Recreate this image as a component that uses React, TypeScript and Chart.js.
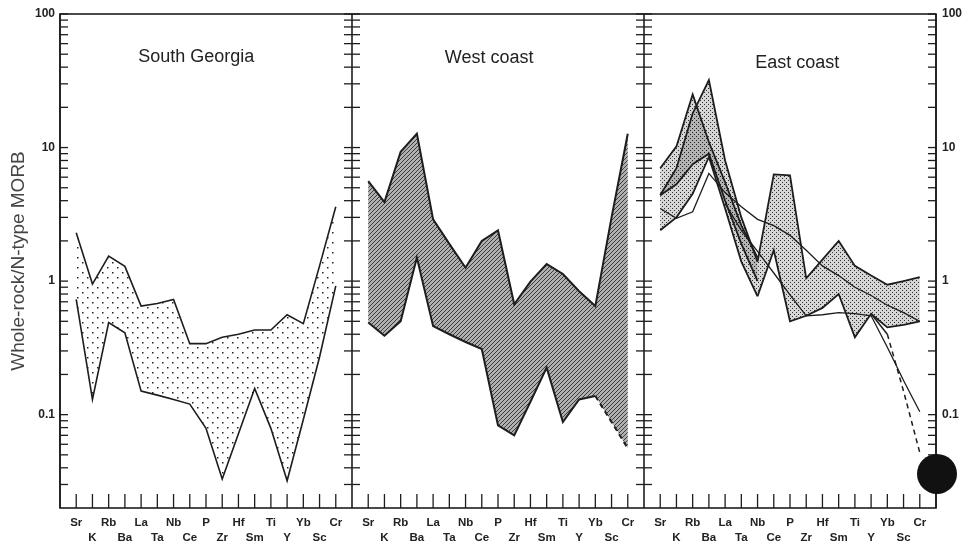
import { useEffect, useRef } from 'react';
import { Chart, registerables } from 'chart.js';

Chart.register(...registerables);

// ---------- data ----------
const ELEMENTS = ['Sr', 'K', 'Rb', 'Ba', 'La', 'Ta', 'Nb', 'Ce', 'P', 'Zr', 'Hf', 'Sm', 'Ti', 'Y', 'Yb', 'Sc', 'Cr'];
const PANEL_TITLES = ['South Georgia', 'West coast', 'East coast'];
const Y_LABEL_VALUES = [0.1, 1, 10, 100];
const Y_TITLE = 'Whole-rock/N-type MORB';

// South Georgia envelope
const SG_UPPER = [2.3, 0.95, 1.54, 1.29, 0.65, 0.68, 0.73, 0.34, 0.34, 0.38, 0.4, 0.43, 0.43, 0.56, 0.48, 1.3, 3.6];
const SG_LOWER = [0.73, 0.13, 0.49, 0.41, 0.15, 0.14, 0.13, 0.12, 0.079, 0.033, 0.072, 0.157, 0.079, 0.032, 0.092, 0.27, 0.92];

// West coast envelope
const WC_UPPER = [5.6, 3.9, 9.3, 12.7, 2.9, 1.9, 1.26, 2.0, 2.4, 0.67, 0.99, 1.34, 1.13, 0.84, 0.65, 3.0, 12.7];
const WC_LOWER = [0.49, 0.39, 0.5, 1.5, 0.46, 0.4, 0.35, 0.31, 0.083, 0.07, 0.125, 0.225, 0.088, 0.13, 0.138, 0.088, 0.056];

// East coast envelopes (null = not drawn)
const N = null;
const EC_A_UPPER = [7.0, 10.2, 25, 11, 5.5, 2.6, 1.5, N, N, N, N, N, N, N, N, N, N];
const EC_A_LOWER = [4.4, 5.3, 7.5, 9.0, 4.0, 1.9, 1.0, N, N, N, N, N, N, N, N, N, N];
const EC_B_UPPER = [4.4, 7.0, 18, 32, 8.0, 3.0, 1.4, N, N, N, N, N, N, N, N, N, N];
const EC_B_LOWER = [2.4, 3.0, 4.5, 8.5, 3.5, 1.4, 0.77, N, N, N, N, N, N, N, N, N, N];
const EC_C_UPPER = [N, N, N, N, N, N, 1.4, 6.3, 6.2, 1.05, 1.45, 2.0, 1.3, 1.1, 0.94, 1.0, 1.07];
const EC_C_LOWER = [N, N, N, N, N, N, 0.77, 1.7, 0.5, 0.55, 0.63, 0.8, 0.38, 0.57, 0.45, 0.47, 0.5];
// East coast single samples
const EC_LINE_1 = [3.5, 2.95, 3.3, 6.4, 4.6, 3.6, 2.9, 2.6, 2.2, 1.7, 1.3, 1.1, 0.9, 0.78, 0.66, 0.58, 0.5];
const EC_LINE_2 = [N, N, N, N, 3.8, 2.4, 1.67, 1.15, 0.79, 0.55, 0.56, 0.58, 0.57, 0.55, 0.32, 0.18, 0.105];
const EC_LINE_3 = [N, N, N, N, N, N, N, N, N, N, N, N, N, 0.57, 0.4, 0.15, 0.052];

// ---------- layout constants ----------
const PANEL_SPAN = 18; // category slots per panel (17 elements + gap)
const TITLE_X = [7.4, 7.45, 8.45];
const TITLE_DY = [43, 44, 49];
const FONT = "'Liberation Sans', Arial, Helvetica, sans-serif";
const INK = '#1d1d1d';

type Arr = (number | null)[];

function pts(arr: Arr, panel: number) {
  const out: { x: number; y: number }[] = [];
  arr.forEach((v, i) => {
    if (v != null) out.push({ x: panel * PANEL_SPAN + i, y: v });
  });
  return out;
}

function makePattern(size: number, draw: (g: CanvasRenderingContext2D) => void) {
  const c = document.createElement('canvas');
  c.width = size;
  c.height = size;
  const g = c.getContext('2d')!;
  draw(g);
  return g.createPattern(c, 'repeat')!;
}

const framePlugin = {
  id: 'frame',
  afterDraw(chart: any) {
    const { ctx, chartArea: a, scales } = chart;
    const xs = scales.x;
    const ys = scales.y;
    ctx.save();
    ctx.strokeStyle = INK;
    ctx.lineWidth = 1.6;
    ctx.strokeRect(a.left, a.top, a.right - a.left, a.bottom - a.top);
    const bounds = [-1, PANEL_SPAN - 1, 2 * PANEL_SPAN - 1, 3 * PANEL_SPAN - 1];
    bounds.forEach((b) => {
      const px = xs.getPixelForValue(b);
      ctx.beginPath();
      ctx.moveTo(px, a.top);
      ctx.lineTo(px, a.bottom);
      ctx.stroke();
    });
    const vals: number[] = [];
    for (let e = -2; e <= 1; e++) for (let m = 1; m <= 9; m++) vals.push(m * Math.pow(10, e));
    vals.push(100);
    ctx.lineWidth = 1.3;
    bounds.forEach((b, bi) => {
      const px = xs.getPixelForValue(b);
      vals.forEach((v) => {
        if (v < 0.021 || v > 100) return;
        const py = ys.getPixelForValue(v);
        const len = 8;
        ctx.beginPath();
        ctx.moveTo(bi > 0 ? px - len : px, py);
        ctx.lineTo(bi < bounds.length - 1 ? px + len : px, py);
        ctx.stroke();
      });
    });
    for (let p = 0; p < 3; p++) {
      for (let i = 0; i < ELEMENTS.length; i++) {
        const px = xs.getPixelForValue(p * PANEL_SPAN + i);
        ctx.beginPath();
        ctx.moveTo(px, a.bottom);
        ctx.lineTo(px, a.bottom - 14);
        ctx.stroke();
      }
    }
    ctx.fillStyle = '#222';
    ctx.font = `18px ${FONT}`;
    ctx.textAlign = 'center';
    ctx.textBaseline = 'middle';
    PANEL_TITLES.forEach((t, p) => {
      ctx.fillText(t, xs.getPixelForValue(p * PANEL_SPAN + TITLE_X[p]), a.top + TITLE_DY[p]);
    });
    ctx.fillStyle = '#111';
    ctx.beginPath();
    ctx.arc(a.right + 1, ys.getPixelForValue(0.036), 20, 0, Math.PI * 2);
    ctx.fill();
    ctx.restore();
  },
};

export default function App() {
  const ref = useRef<HTMLCanvasElement>(null);
  useEffect(() => {
    if (!ref.current) return;
    const sparse = makePattern(10, (g) => {
      g.fillStyle = '#222';
      g.fillRect(2, 2, 1.5, 1.5);
      g.fillRect(7, 7, 1.5, 1.5);
    });
    const dense = makePattern(4, (g) => {
      g.fillStyle = 'rgba(0,0,0,0.16)';
      g.fillRect(0, 0, 4, 4);
      g.fillStyle = 'rgba(30,30,30,0.9)';
      g.fillRect(0, 0, 1, 1);
      g.fillRect(2, 2, 1, 1);
    });
    const hatch = makePattern(4, (g) => {
      g.fillStyle = '#b0b0b0';
      g.fillRect(0, 0, 4, 4);
      g.strokeStyle = '#3c3c3c';
      g.lineWidth = 1.0;
      g.beginPath();
      g.moveTo(0, 4);
      g.lineTo(4, 0);
      g.moveTo(-1, 1);
      g.lineTo(1, -1);
      g.moveTo(3, 5);
      g.lineTo(5, 3);
      g.stroke();
    });

    // envelopes filled through the chart's own scales
    const bands: [Arr, Arr, number, CanvasPattern][] = [
      [SG_UPPER, SG_LOWER, 0, sparse],
      [WC_UPPER, WC_LOWER, 1, hatch],
      [EC_A_UPPER, EC_A_LOWER, 2, dense],
      [EC_B_UPPER, EC_B_LOWER, 2, dense],
      [EC_C_UPPER, EC_C_LOWER, 2, dense],
    ];
    const bandPlugin = {
      id: 'bands',
      beforeDatasetsDraw(chart: any) {
        const { ctx, chartArea: a, scales } = chart;
        const xs = scales.x;
        const ys = scales.y;
        ctx.save();
        ctx.beginPath();
        ctx.rect(a.left, a.top, a.right - a.left, a.bottom - a.top);
        ctx.clip();
        bands.forEach(([up, lo, panel, pat]) => {
          const poly = [...pts(up, panel), ...pts(lo, panel).reverse()];
          ctx.beginPath();
          poly.forEach((p, k) => {
            const px = xs.getPixelForValue(p.x);
            const py = ys.getPixelForValue(p.y);
            if (k === 0) ctx.moveTo(px, py);
            else ctx.lineTo(px, py);
          });
          ctx.closePath();
          ctx.fillStyle = pat;
          ctx.fill();
        });
        ctx.restore();
      },
    };

    const line = (arr: Arr, panel: number, width: number, dashFromIdx = -1) => ({
      data: pts(arr, panel),
      borderColor: INK,
      borderWidth: width,
      backgroundColor: 'transparent',
      fill: false,
      pointRadius: 0,
      tension: 0,
      segment:
        dashFromIdx >= 0
          ? { borderDash: (c: any) => (c.p0DataIndex >= dashFromIdx ? [5, 4] : undefined) }
          : undefined,
    });

    const datasets = [
      line(SG_UPPER, 0, 1.6),
      line(SG_LOWER, 0, 1.6),
      line(WC_UPPER, 1, 2),
      line(WC_LOWER, 1, 2, 14),
      line(EC_A_UPPER, 2, 1.8),
      line(EC_A_LOWER, 2, 1.8),
      line(EC_B_UPPER, 2, 1.8),
      line(EC_B_LOWER, 2, 1.8),
      line(EC_C_UPPER, 2, 1.8),
      line(EC_C_LOWER, 2, 1.8),
      line(EC_LINE_1, 2, 1.3),
      line(EC_LINE_2, 2, 1.3),
      line(EC_LINE_3, 2, 1.5, 1),
    ];

    const xTicks: number[] = [];
    for (let p = 0; p < 3; p++) for (let i = 0; i < ELEMENTS.length; i++) xTicks.push(p * PANEL_SPAN + i);

    const yAxis = (position: 'left' | 'right', width: number, padding: number, withTitle: boolean) => ({
      type: 'logarithmic',
      position,
      min: 0.02,
      max: 100,
      afterBuildTicks: (s: any) => {
        s.ticks = Y_LABEL_VALUES.map((v) => ({ value: v }));
      },
      afterFit: (s: any) => {
        s.width = width;
      },
      ticks: {
        padding,
        color: '#222',
        font: { family: FONT, size: 12, weight: 'bold' },
        callback: (v: number) => String(v),
      },
      grid: { display: false, drawTicks: false },
      border: { display: false },
      title: withTitle
        ? {
            display: true,
            text: Y_TITLE,
            color: '#444',
            font: { family: FONT, size: 19, lineHeight: 1.2 },
            padding: { top: 7, bottom: 0 },
          }
        : { display: false },
    });

    const chart = new Chart(ref.current, {
      type: 'line',
      data: { datasets: datasets as any },
      plugins: [bandPlugin, framePlugin],
      options: {
        animation: false,
        responsive: false,
        maintainAspectRatio: false,
        layout: { padding: { top: 14, left: 0, right: 0, bottom: 0 } },
        plugins: { legend: { display: false }, tooltip: { enabled: false } },
        scales: {
          x: {
            type: 'linear',
            min: -1,
            max: 3 * PANEL_SPAN - 1,
            afterBuildTicks: (s: any) => {
              s.ticks = xTicks.map((v) => ({ value: v }));
            },
            afterFit: (s: any) => {
              s.height = 38;
            },
            ticks: {
              autoSkip: false,
              maxRotation: 0,
              padding: 7.5,
              color: '#222',
              font: { family: FONT, size: 11.5, weight: 'bold', lineHeight: 1.3 },
              callback: (v: number) => {
                const i = ((v % PANEL_SPAN) + PANEL_SPAN) % PANEL_SPAN;
                const name = ELEMENTS[i] ?? '';
                return i % 2 === 0 ? [name, ''] : ['', name];
              },
            },
            grid: { display: false, drawTicks: false },
            border: { display: false },
          },
          y: yAxis('left', 60, 5, true),
          y2: yAxis('right', 43, 6, false),
        } as any,
      },
    });
    return () => chart.destroy();
  }, []);

  return (
    <div style={{ position: 'fixed', left: 0, top: 0, width: 979, height: 546, background: '#fff' }}>
      <canvas ref={ref} width={979} height={546} style={{ width: 979, height: 546, display: 'block' }} />
    </div>
  );
}
